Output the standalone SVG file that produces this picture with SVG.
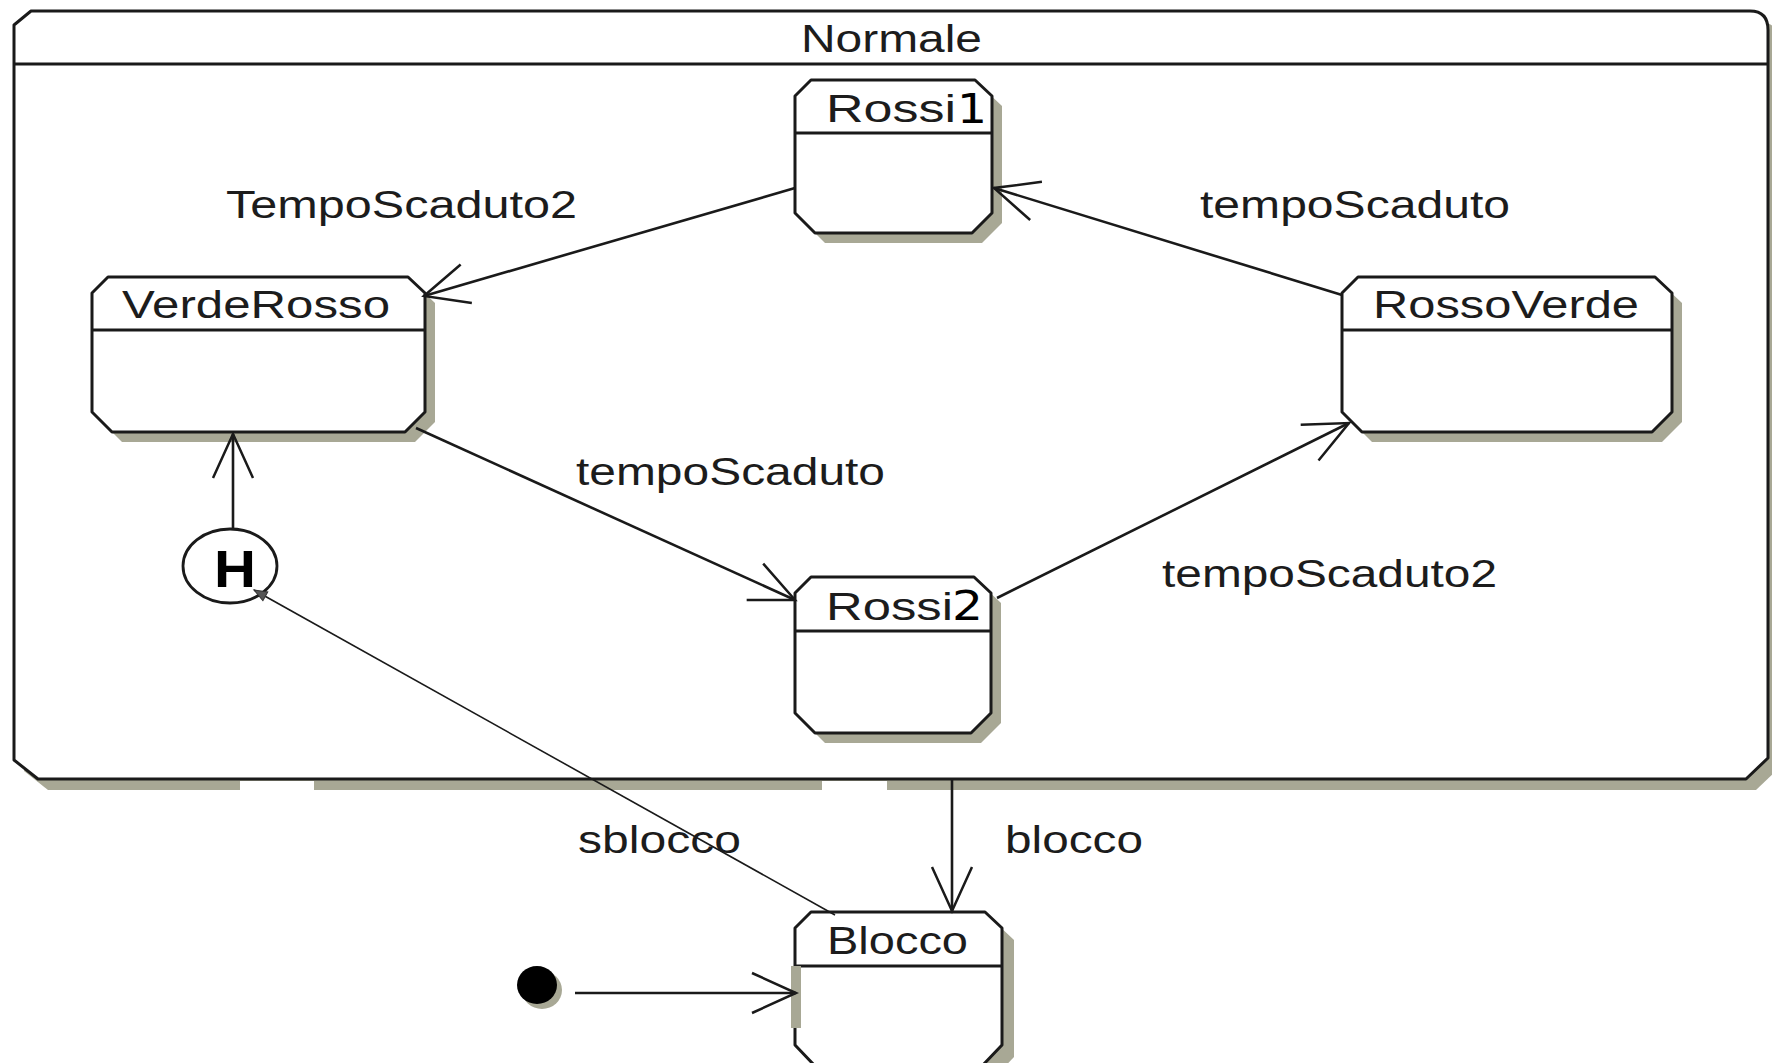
<svg xmlns="http://www.w3.org/2000/svg" width="1772" height="1063" viewBox="0 0 1772 1063">
  <style>
    .box { fill: #ffffff; stroke: #1a1a1a; stroke-width: 3; stroke-linejoin: round; }
    .shadow { fill: #a8a895; stroke: none; }
    .hdr { stroke: #1a1a1a; stroke-width: 3; fill: none; }
    .lbl { font-family: "Liberation Sans", Arial, sans-serif; font-size: 38px; fill: #1c1c1c; }
    .dig { font-family: "DejaVu Sans", sans-serif; font-size: 40px; fill: #000000; }
    .edge { fill: none; stroke: #1a1a1a; stroke-width: 2.6; }
    .thin { fill: none; stroke: #1a1a1a; stroke-width: 1.6; }
  </style>
  <defs>
    <marker id="open" markerUnits="userSpaceOnUse" markerWidth="60" markerHeight="60" viewBox="-50 -30 60 60" refX="0" refY="0" orient="auto" overflow="visible">
      <path d="M -44,-20 L 0,0 L -44,20" fill="none" stroke="#1a1a1a" stroke-width="2.5"/>
    </marker>
    <marker id="small" markerUnits="userSpaceOnUse" markerWidth="20" markerHeight="20" viewBox="-15 -8 20 16" refX="0" refY="0" orient="auto" overflow="visible">
      <path d="M -13,-5 L 0,0 L -13,5 Z" fill="#555555" stroke="#333333" stroke-width="1"/>
    </marker>
  </defs>
  <rect x="0" y="0" width="1772" height="1063" fill="#ffffff"/>

  <g id="Normale">
    <path class="shadow" transform="translate(10,11)" d="M 31,11 L 1750,11 Q 1768,11 1768,30 L 1768,758 L 1746,779 L 38,779 L 14,760 L 14,25 Z"/>
    <path class="box" d="M 31,11 L 1750,11 Q 1768,11 1768,30 L 1768,758 L 1746,779 L 38,779 L 14,760 L 14,25 Z"/>
    <rect x="240" y="781" width="74" height="12" fill="#ffffff"/>
    <rect x="822" y="781" width="65" height="12" fill="#ffffff"/>
    <line class="hdr" x1="14" y1="64" x2="1768" y2="64"/>
    <text class="lbl" x="801" y="52" font-size="37" textLength="181" lengthAdjust="spacingAndGlyphs">Normale</text>
  </g>

  <g id="Rossi1">
    <path class="shadow" transform="translate(10,10)" d="M 811,80 L 975,80 L 992,96 L 992,213 L 972,233 L 815,233 L 795,213 L 795,96 Z"/>
    <path class="box" d="M 811,80 L 975,80 L 992,96 L 992,213 L 972,233 L 815,233 L 795,213 L 795,96 Z"/>
    <line class="hdr" x1="795" y1="133" x2="992" y2="133"/>
    <text class="lbl" x="826" y="122" textLength="130" lengthAdjust="spacingAndGlyphs">Rossi</text>
    <text class="dig" x="957" y="123" textLength="30" lengthAdjust="spacingAndGlyphs">1</text>
  </g>

  <g id="VerdeRosso">
    <path class="shadow" transform="translate(10,10)" d="M 108,277 L 408,277 L 425,293 L 425,412 L 405,432 L 112,432 L 92,412 L 92,293 Z"/>
    <path class="box" d="M 108,277 L 408,277 L 425,293 L 425,412 L 405,432 L 112,432 L 92,412 L 92,293 Z"/>
    <line class="hdr" x1="92" y1="330" x2="425" y2="330"/>
    <text class="lbl" x="122" y="318" textLength="268" lengthAdjust="spacingAndGlyphs">VerdeRosso</text>
  </g>

  <g id="RossoVerde">
    <path class="shadow" transform="translate(10,10)" d="M 1358,277 L 1655,277 L 1672,293 L 1672,412 L 1652,432 L 1362,432 L 1342,412 L 1342,293 Z"/>
    <path class="box" d="M 1358,277 L 1655,277 L 1672,293 L 1672,412 L 1652,432 L 1362,432 L 1342,412 L 1342,293 Z"/>
    <line class="hdr" x1="1342" y1="330" x2="1672" y2="330"/>
    <text class="lbl" x="1373" y="318" textLength="266" lengthAdjust="spacingAndGlyphs">RossoVerde</text>
  </g>

  <g id="Rossi2">
    <path class="shadow" transform="translate(10,10)" d="M 811,577 L 974,577 L 991,593 L 991,713 L 971,733 L 815,733 L 795,713 L 795,593 Z"/>
    <path class="box" d="M 811,577 L 974,577 L 991,593 L 991,713 L 971,733 L 815,733 L 795,713 L 795,593 Z"/>
    <line class="hdr" x1="795" y1="631" x2="991" y2="631"/>
    <text class="lbl" x="826" y="620" textLength="127" lengthAdjust="spacingAndGlyphs">Rossi</text>
    <text class="dig" x="952" y="620" textLength="31" lengthAdjust="spacingAndGlyphs">2</text>
  </g>

  <g id="Blocco">
    <path class="shadow" transform="translate(12,12)" d="M 811,912 L 985,912 L 1002,928 L 1002,1045 L 982,1066 L 815,1066 L 795,1045 L 795,928 Z"/>
    <path class="box" d="M 811,912 L 985,912 L 1002,928 L 1002,1045 L 982,1066 L 815,1066 L 795,1045 L 795,928 Z"/>
    <line class="hdr" x1="795" y1="966" x2="1002" y2="966"/>
    <rect class="shadow" x="791" y="966" width="10" height="62"/>
    <text class="lbl" x="827" y="954" textLength="141" lengthAdjust="spacingAndGlyphs">Blocco</text>
  </g>

  <g id="History">
    <ellipse cx="230" cy="566" rx="47" ry="37" fill="#ffffff" stroke="#1a1a1a" stroke-width="2.8"/>
    <text x="235" y="587" text-anchor="middle" font-family="'Liberation Sans', Arial, sans-serif" font-weight="bold" font-size="51" fill="#000000" textLength="42" lengthAdjust="spacingAndGlyphs">H</text>
  </g>

  <g id="Initial">
    <ellipse class="shadow" cx="542" cy="990" rx="20" ry="19"/>
    <ellipse cx="537" cy="985" rx="20" ry="19" fill="#000000"/>
  </g>

  <g id="connectors">
    <line class="edge" x1="795" y1="188" x2="424" y2="296" marker-end="url(#open)"/>
    <line class="edge" x1="1342" y1="295" x2="994" y2="188" marker-end="url(#open)"/>
    <line class="edge" x1="416" y1="428" x2="795" y2="600" marker-end="url(#open)"/>
    <line class="edge" x1="997" y1="598" x2="1349" y2="423" marker-end="url(#open)"/>
    <line class="edge" x1="233" y1="529" x2="233" y2="434" marker-end="url(#open)"/>
    <line class="edge" x1="952" y1="779" x2="952" y2="911" marker-end="url(#open)"/>
    <line class="edge" x1="575" y1="993" x2="796" y2="993" stroke-width="3.2" marker-end="url(#open)"/>
    <line class="thin" x1="835" y1="915" x2="254" y2="590" marker-end="url(#small)"/>
  </g>

  <g id="labels">
    <text class="lbl" x="226" y="218" textLength="351" lengthAdjust="spacingAndGlyphs">TempoScaduto2</text>
    <text class="lbl" x="1200" y="218" textLength="310" lengthAdjust="spacingAndGlyphs">tempoScaduto</text>
    <text class="lbl" x="576" y="485" textLength="309" lengthAdjust="spacingAndGlyphs">tempoScaduto</text>
    <text class="lbl" x="1162" y="587" textLength="335" lengthAdjust="spacingAndGlyphs">tempoScaduto2</text>
    <text class="lbl" x="578" y="853" textLength="163" lengthAdjust="spacingAndGlyphs">sblocco</text>
    <text class="lbl" x="1005" y="853" textLength="138" lengthAdjust="spacingAndGlyphs">blocco</text>
  </g>
</svg>
